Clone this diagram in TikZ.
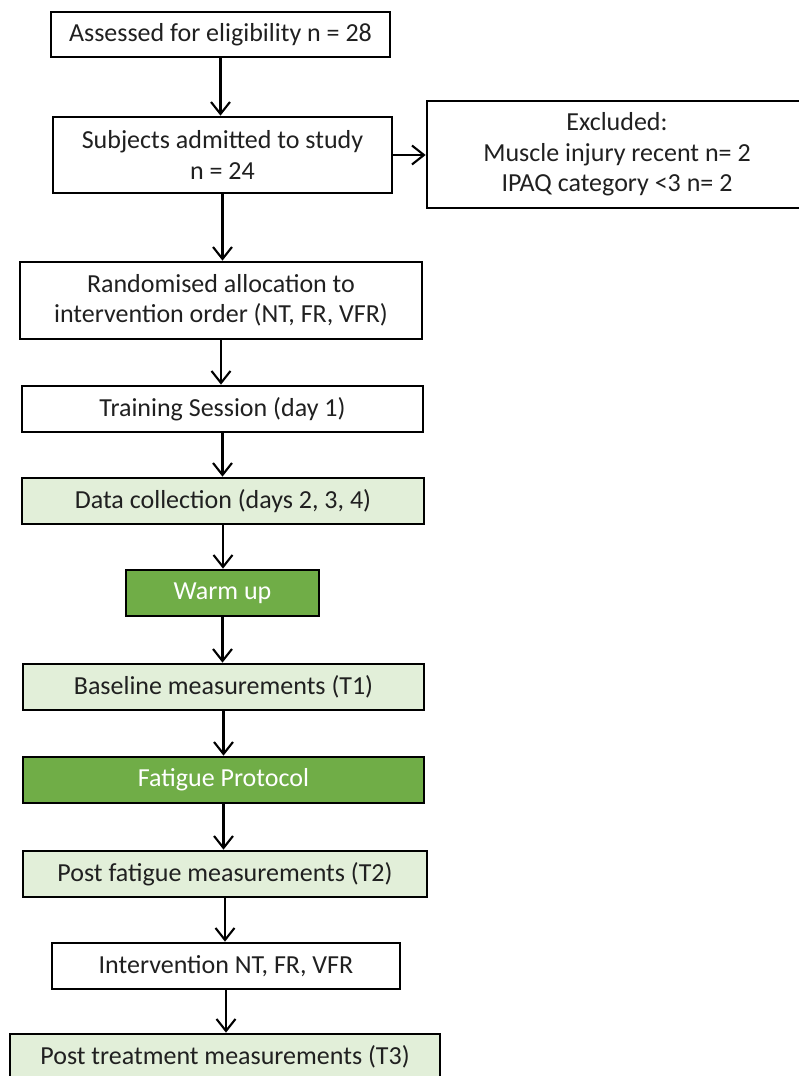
\documentclass[tikz,border=0pt]{standalone}
\usepackage{fontspec}
\setmainfont{Carlito}
\usetikzlibrary{arrows.meta}
\definecolor{lightg}{HTML}{E2EFD9}
\definecolor{darkg}{HTML}{70AD47}
\definecolor{txt}{HTML}{202020}
\begin{document}
\begin{tikzpicture}[x=1pt,y=-1pt,
  box/.style={draw=black,line width=2.7pt,rectangle,inner sep=0pt,align=center,
    text=txt,font=\fontsize{26}{30.5}\selectfont},
  lbox/.style={box,fill=lightg},
  dbox/.style={box,fill=darkg,text=white},
  arr/.style={line width=2.1pt,-{Straight Barb[length=12pt,width=19pt]}}]
\useasboundingbox (0,0) rectangle (799,1076);
\node[box,minimum width=339pt,minimum height=45pt] (b1) at (220.5,34.5) {Assessed for eligibility n = 28};
\node[box,minimum width=339pt,minimum height=76pt] (b2) at (222.5,155) {Subjects admitted to study\\n = 24};
\node[box,minimum width=380pt,minimum height=107pt] (ex) at (617,154.5) {Excluded:\\Muscle injury recent n= 2\\IPAQ category <3 n= 2};
\node[box,minimum width=402pt,minimum height=77pt] (b3) at (221,300.5) {Randomised allocation to\\intervention order (NT, FR, VFR)};
\node[box,minimum width=401pt,minimum height=46pt] (b4) at (222.5,409) {Training Session (day 1)};
\node[lbox,minimum width=402pt,minimum height=46pt] (b5) at (223,501) {Data collection (days 2, 3, 4)};
\node[dbox,minimum width=193pt,minimum height=46pt] (b6) at (222.5,593) {Warm up};
\node[lbox,minimum width=401pt,minimum height=46pt] (b7) at (223.5,687) {Baseline measurements (T1)};
\node[dbox,minimum width=401pt,minimum height=46pt] (b8) at (223.5,780) {Fatigue Protocol};
\node[lbox,minimum width=404pt,minimum height=46pt] (b9) at (225,874) {Post fatigue measurements (T2)};
\node[box,minimum width=348pt,minimum height=46pt] (b10) at (226,966) {Intervention NT, FR, VFR};
\node[lbox,minimum width=430pt,minimum height=46pt] (b11) at (225,1057) {Post treatment measurements (T3)};
\draw[arr] (b1.south) -- (b1.south |- b2.north);
\draw[arr] (b2.east) -- (ex.west |- b2.east);
\draw[arr] (b2.south) -- (b2.south |- b3.north);
\draw[arr] (b3.south) -- (b3.south |- b4.north);
\draw[arr] (b4.south) -- (b4.south |- b5.north);
\draw[arr] (b5.south) -- (b5.south |- b6.north);
\draw[arr] (b6.south) -- (b6.south |- b7.north);
\draw[arr] (b7.south) -- (b7.south |- b8.north);
\draw[arr] (b8.south) -- (b8.south |- b9.north);
\draw[arr] (b9.south) -- (b9.south |- b10.north);
\draw[arr] (b10.south) -- (b10.south |- b11.north);
\end{tikzpicture}
\end{document}
